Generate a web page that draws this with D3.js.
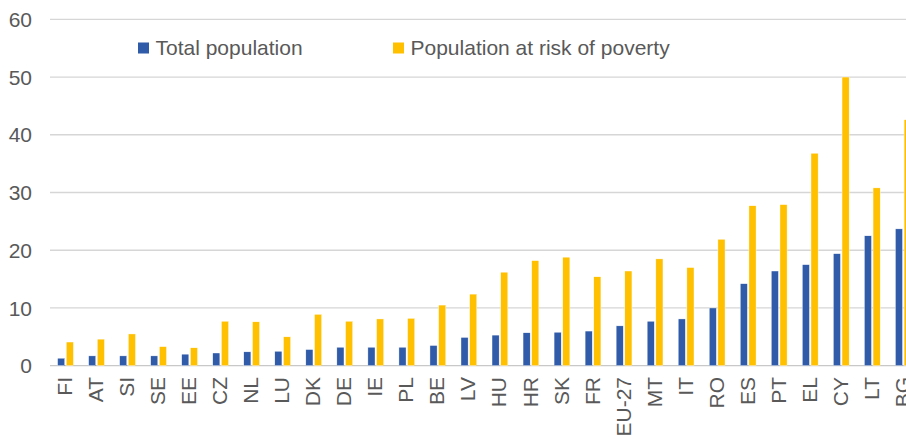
<!DOCTYPE html>
<html>
<head>
<meta charset="utf-8">
<script src="https://cdn.jsdelivr.net/npm/d3@7"></script>
<style>
  body { margin: 0; background: #fff; }
  text { font-family: Arial, 'Liberation Sans', sans-serif; fill: #595959; }
</style>
</head>
<body>
<svg id="chart" width="906" height="439"></svg>
<script>
// data
const countries = ['FI','AT','SI','SE','EE','CZ','NL','LU','DK','DE','IE','PL','BE','LV','HU','HR','SK','FR','EU-27','MT','IT','RO','ES','PT','EL','CY','LT','BG'];
const totalPopulation = [1.3,1.7,1.7,1.7,2.0,2.2,2.4,2.5,2.8,3.2,3.2,3.2,3.5,4.9,5.3,5.7,5.8,6.0,6.9,7.7,8.1,10.0,14.2,16.4,17.5,19.4,22.5,23.7];
const atRiskOfPoverty = [4.1,4.6,5.5,3.3,3.1,7.7,7.6,5.0,8.9,7.7,8.1,8.2,10.5,12.4,16.2,18.2,18.8,15.4,16.4,18.5,17.0,21.9,27.7,27.9,36.8,50.0,30.8,42.6];
const seriesNames = ['Total population', 'Population at risk of poverty'];
const seriesColors = ['#2F5BA8', '#FFC000'];
const yTicks = [0, 10, 20, 30, 40, 50, 60];

const svg = d3.select('#chart');

const x = d3.scaleBand()
    .domain(countries)
    .range([50, 50 + 28 * 31.03]);

const xSub = d3.scaleBand()
    .domain([0, 1])
    .range([7.6, 23.4])
    .paddingInner(0.18);

const y = d3.scaleLinear()
    .domain([0, 60])
    .range([365.7, 19.3]);

// gridlines
svg.append('g')
    .attr('class','grid')
    .selectAll('line')
    .data(yTicks)
    .enter().append('line')
    .attr('x1', 50)
    .attr('x2', 906)
    .attr('y1', d => y(d))
    .attr('y2', d => y(d))
    .style('stroke', d => d === 0 ? '#c8c8c8' : '#d6d6d6')
    .style('stroke-width', 1.3);

// y labels
svg.append('g')
    .selectAll('text')
    .data(yTicks)
    .enter().append('text')
    .attr('x', 32)
    .attr('y', d => y(d))
    .attr('dy', '0.36em')
    .attr('text-anchor', 'end')
    .style('font-size', '21px')
    .text(d => d);

// bars
const rows = countries.map((c, i) => ({c, vals: [totalPopulation[i], atRiskOfPoverty[i]]}));

const groups = svg.append('g')
    .attr('class','bars')
    .selectAll('g')
    .data(rows)
    .enter().append('g')
    .attr('transform', d => `translate(${x(d.c)},0)`);

groups.selectAll('rect')
    .data(d => d.vals.map((v, k) => ({v, k})))
    .enter().append('rect')
    .attr('x', d => xSub(d.k))
    .attr('width', xSub.bandwidth())
    .attr('y', d => y(d.v))
    .attr('height', d => y(0) - y(d.v))
    .style('fill', d => seriesColors[d.k])
    .style('stroke', '#fff')
    .style('stroke-width', 0.4);

// x labels
svg.append('g')
    .selectAll('text')
    .data(countries)
    .enter().append('text')
    .attr('transform', d => `translate(${x(d) + x.bandwidth() / 2 - 0.8},377) rotate(-90)`)
    .attr('dy', '0.35em')
    .attr('text-anchor', 'end')
    .style('font-size', '21px')
    .text(d => d);

// legend
const legendX = [138, 393];
const legend = svg.append('g')
    .selectAll('g')
    .data(seriesNames)
    .enter().append('g')
    .attr('transform', (d, i) => `translate(${legendX[i]},42.5)`);

legend.append('rect')
    .attr('width', 11)
    .attr('height', 11)
    .style('fill', (d, i) => seriesColors[i]);

legend.append('text')
    .attr('x', 17.5)
    .attr('y', 12.5)
    .style('font-size', '21px')
    .text(d => d);
</script>
</body>
</html>
